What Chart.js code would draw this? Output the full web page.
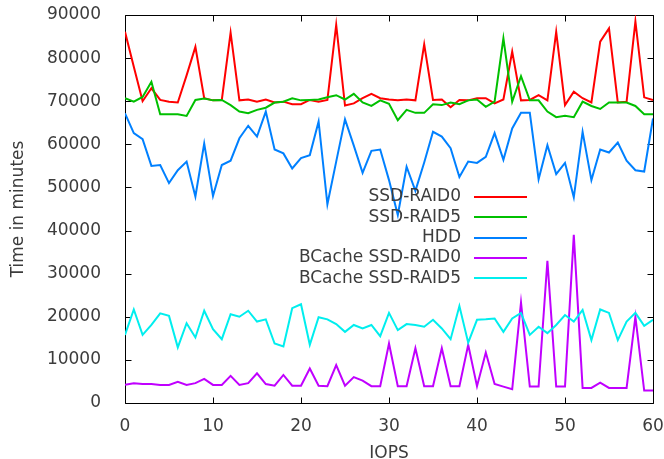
<!DOCTYPE html>
<html><head><meta charset="utf-8">
<script src="https://cdn.jsdelivr.net/npm/chart.js@4/dist/chart.umd.min.js"></script>
<style>html,body{margin:0;padding:0;background:#fff}</style>
</head><body>
<canvas id="c" width="664" height="459"></canvas>
<script>
const iops = [0,1,2,3,4,5,6,7,8,9,10,11,12,13,14,15,16,17,18,19,20,21,22,23,24,25,26,27,28,29,30,31,32,33,34,35,36,37,38,39,40,41,42,43,44,45,46,47,48,49,50,51,52,53,54,55,56,57,58,59,60];
const seriesNames = ['SSD-RAID0','SSD-RAID5','HDD','BCache SSD-RAID0','BCache SSD-RAID5'];
const ssdRaid0 = [86100,78000,70000,73000,70300,69900,69700,76000,82600,70700,70200,70300,85900,70200,70400,69900,70400,69700,69900,69300,69300,70300,69900,70300,87700,69000,69500,70700,71700,70700,70400,70200,70400,70200,83200,70300,70400,68600,70300,70200,70700,70700,69500,70400,81500,70200,70300,71400,70200,86100,69100,72200,70700,69700,83800,86900,69700,69900,88500,70900,70300];
const ssdRaid5 = [70700,69900,71000,74500,67000,67000,67000,66600,70300,70600,70200,70300,69100,67600,67200,68000,68500,69700,69900,70700,70200,70300,70400,70900,71400,70400,71700,69700,68900,70200,69400,65600,68000,67300,67300,69300,69100,69700,69300,70200,70400,68700,69900,84600,69900,75800,70200,70200,67600,66300,66600,66300,69900,68900,68200,69700,69700,69700,68900,67000,67000];
const hdd = [67200,62600,61200,55000,55200,51000,54000,56000,47900,60200,48000,55200,56200,61400,64300,61800,67600,58800,57900,54400,56800,57500,65300,46100,56000,65800,59700,53400,58500,58800,51700,43600,54800,49200,55800,62900,61800,59100,52400,56000,55700,57100,62600,56400,63700,67300,67300,51900,59800,53100,55700,47700,62900,51700,58800,58100,60400,56200,54000,53700,66000];
const bcacheRaid0 = [4200,4600,4400,4400,4200,4200,4900,4200,4600,5600,4200,4200,6300,4200,4600,6900,4400,4000,6500,4000,4000,8000,4000,3900,8800,4000,6000,5200,3900,3900,13800,3900,3900,12700,3900,3900,12700,3900,3900,13500,3900,11700,4400,3800,3200,23300,3800,3800,33000,3800,3800,39000,3500,3500,4700,3500,3500,3500,20000,2900,2900];
const bcacheRaid5 = [15800,21700,15800,18100,20800,20200,12900,18500,15200,21400,17100,14800,20600,20000,21400,18900,19400,13800,13100,22000,22900,13500,19900,19400,18300,16500,18100,17300,18100,15500,20900,16900,18300,18100,17700,19300,17300,14800,22500,14000,19300,19400,19600,16500,19600,20900,15800,17700,16200,18100,20400,18900,21600,14600,21700,20900,14600,18900,20900,17900,19300];
const xTickValues = [0,10,20,30,40,50,60];
const yTickValues = [0,10000,20000,30000,40000,50000,60000,70000,80000,90000];
const colors = ['#ff0000','#00c000','#0080ff','#c000ff','#00eeee'];

const FONT = {family: '"DejaVu Sans", sans-serif', size: 17};
const TEXT = '#3c3c3c';
const allSeries = [ssdRaid0, ssdRaid5, hdd, bcacheRaid0, bcacheRaid5];

const datasets = allSeries.map((vals, k) => ({
  label: seriesNames[k],
  data: iops.map((x, i) => ({x: x, y: vals[i]})),
  borderColor: colors[k],
  backgroundColor: colors[k],
  borderWidth: 2,
  pointRadius: 0,
  tension: 0,
  fill: false,
  order: 10 - k
}));

const framePlugin = {
  id: 'frame',
  beforeDatasetsDraw(chart) {
    const {ctx, chartArea: a, scales: {x, y}} = chart;
    ctx.save();
    ctx.strokeStyle = '#000';
    ctx.lineWidth = 1;
    const L = Math.round(a.left) + 0.5, R = Math.round(a.right) + 0.5;
    const T = Math.round(a.top) + 0.5, B = Math.round(a.bottom) + 0.5;
    ctx.beginPath();
    ctx.rect(L, T, R - L, B - T);
    const tl = 6;
    yTickValues.forEach(v => {
      const py = Math.round(y.getPixelForValue(v)) + 0.5;
      ctx.moveTo(L, py); ctx.lineTo(L + tl, py);
      ctx.moveTo(R, py); ctx.lineTo(R - tl, py);
    });
    xTickValues.forEach(v => {
      const px = Math.round(x.getPixelForValue(v)) + 0.5;
      ctx.moveTo(px, B); ctx.lineTo(px, B - tl);
      ctx.moveTo(px, T); ctx.lineTo(px, T + tl);
    });
    ctx.stroke();
    ctx.restore();
  },
  afterDatasetsDraw(chart) {
    const {ctx} = chart;
    ctx.save();
    ctx.font = FONT.size + 'px ' + FONT.family;
    ctx.textAlign = 'right';
    ctx.textBaseline = 'middle';
    chart.data.datasets.forEach((ds, k) => {
      const ry = 197 + k * 20.3;
      ctx.fillStyle = TEXT;
      ctx.fillText(ds.label, 461, ry);
      ctx.strokeStyle = ds.borderColor;
      ctx.lineWidth = 2;
      ctx.beginPath();
      ctx.moveTo(474, Math.round(ry));
      ctx.lineTo(527, Math.round(ry));
      ctx.stroke();
    });
    ctx.restore();
  }
};

new Chart(document.getElementById('c'), {
  type: 'line',
  data: {datasets},
  options: {
    responsive: false,
    animation: false,
    layout: {padding: 0},
    plugins: {legend: {display: false}, tooltip: {enabled: false}},
    scales: {
      x: {
        type: 'linear', min: 0, max: 60,
        grid: {display: false}, border: {display: false},
        ticks: {stepSize: 10, padding: 5, font: FONT, color: TEXT, maxRotation: 0},
        title: {display: true, text: 'IOPS', font: {...FONT, lineHeight: 1}, color: TEXT, padding: {top: 0, bottom: -3}},
        afterFit(s) { s.height = 56; s.paddingLeft = 0; s.paddingRight = 11; }
      },
      y: {
        type: 'linear', min: 0, max: 90000,
        grid: {display: false}, border: {display: false},
        ticks: {stepSize: 10000, padding: 16, font: FONT, color: TEXT, callback: v => String(v)},
        title: {display: true, text: 'Time in minutes', font: FONT, color: TEXT, padding: {top: 8, bottom: 0}},
        afterFit(s) { s.width = 125; s.paddingTop = 15; s.paddingBottom = 0; }
      }
    }
  },
  plugins: [framePlugin]
});
</script>
</body></html>
